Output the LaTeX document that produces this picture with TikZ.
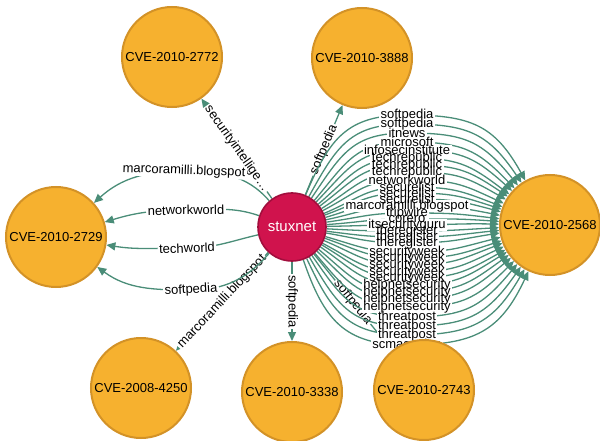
\documentclass[tikz,border=0pt]{standalone}
\usepackage{fontspec}
\setmainfont{Liberation Sans}
\usetikzlibrary{arrows.meta,calc}
\pgfdeclarelayer{bg}
\pgfsetlayers{bg,main}
\definecolor{cveFill}{HTML}{F6B12F}
\definecolor{cveLine}{HTML}{D39227}
\definecolor{stxFill}{HTML}{D0134D}
\definecolor{stxLine}{HTML}{A20E3D}
\definecolor{relcol}{HTML}{4A8D78}
\def\fanlist{softpedia/115, softpedia/124, itnews/133, microsoft/142, infosecinstitute/150, techrepublic/158, techrepublic/165, techrepublic/172, networkworld/180, securelist/187, securelist/193, securelist/199, marcoramilli.blogspot/206, tripwire/213, corero/219, itsecurityguru/225, theregister/231, theregister/237, theregister/243, securityweek/252, securityweek/258, securityweek/265, securityweek/272, securityweek/278, helpnetsecurity/285, helpnetsecurity/292, helpnetsecurity/299, helpnetsecurity/307, threatpost/317, threatpost/326, threatpost/335, scmagazine/345}
\begin{document}
\begin{tikzpicture}[x=1pt,y=1pt,
  cve/.style={circle, draw=cveLine, fill=cveFill, line width=2pt, minimum size=100pt, inner sep=0pt, font=\fontsize{13}{13}\selectfont},
  stx/.style={circle, draw=stxLine, fill=stxFill, line width=1.6pt, minimum size=68pt, inner sep=0pt, text=white, font=\fontsize{15}{15}\selectfont},
  rel/.style={draw=relcol, line width=1.3pt, -{Triangle[length=9pt,width=8pt]}},
  lbl/.style={fill=white, inner xsep=1.5pt, inner ysep=0.5pt, font=\fontsize{13}{13}\selectfont},
  fanlbl/.style={inner xsep=1.5pt, inner ysep=0pt, font=\fontsize{13}{13}\selectfont}
]
\useasboundingbox (0,0) rectangle (600,440);
% nodes
\node[stx] (S) at (292,213) {stuxnet};
\node[cve] (A) at (172,383) {CVE-2010-2772};
\node[cve] (B) at (362,382) {CVE-2010-3888};
\node[cve] (C) at (56,203) {CVE-2010-2729};
\node[cve] (T) at (550,215) {CVE-2010-2568};
\node[cve] (E) at (141,52) {CVE-2008-4250};
\node[cve] (F) at (292,48) {CVE-2010-3338};
\node[cve] (G) at (424,50) {CVE-2010-2743};
\begin{pgfonlayer}{bg}
% straight relationships
\draw[rel] (S) -- (A) node[midway, sloped, lbl] {securityintellige…};
\draw[rel] (S) -- (B) node[midway, sloped, lbl] {softpedia};
\draw[rel] (S) -- (F) node[midway, rotate=-90, lbl] {softpedia};
\draw[rel] (S) -- (E) node[midway, sloped, lbl] {marcoramilli.blogspot};
\draw[rel] (S) -- (G) node[midway, sloped, lbl] {softpedia};
% arcs to CVE-2010-2729
\draw[rel] (S.131) to[out=131,in=0] (184,269) node[lbl, rotate=-2] {marcoramilli.blogspot} to[out=180,in=42] (C.42);
\draw[rel] (S.161) to[out=161,in=0] (186,230) node[lbl, rotate=1] {networkworld} to[out=180,in=17] (C.17);
\draw[rel] (S.193) to[out=193,in=0] (187,192) node[lbl, rotate=2] {techworld} to[out=180,in=-9] (C.-9);
\draw[rel] (S.229) to[out=229,in=0] (191,150) node[lbl, rotate=3] {softpedia} to[out=180,in=-36] (C.-36);
% fan to CVE-2010-2568
\foreach \lab/\yy in \fanlist {
  \pgfmathsetmacro{\Y}{440-\yy}
  \pgfmathsetmacro{\h}{\Y-214}
  \pgfmathtruncatemacro{\a}{round(0.6*\h)}
  \pgfmathtruncatemacro{\b}{round(180-0.55*\h)}
  \draw[rel] (S.\a) to[out=\a,in=180,looseness=1.2] (407,\Y) to[out=0,in=\b,looseness=1.2] (T.\b);
}
\foreach \lab/\yy in \fanlist {
  \node[fanlbl, fill=white] at (407,440-\yy) {\phantom{\lab}};
}
\foreach \lab/\yy in \fanlist {
  \node[fanlbl] at (407,440-\yy) {\lab};
}
\end{pgfonlayer}
\end{tikzpicture}
\end{document}
